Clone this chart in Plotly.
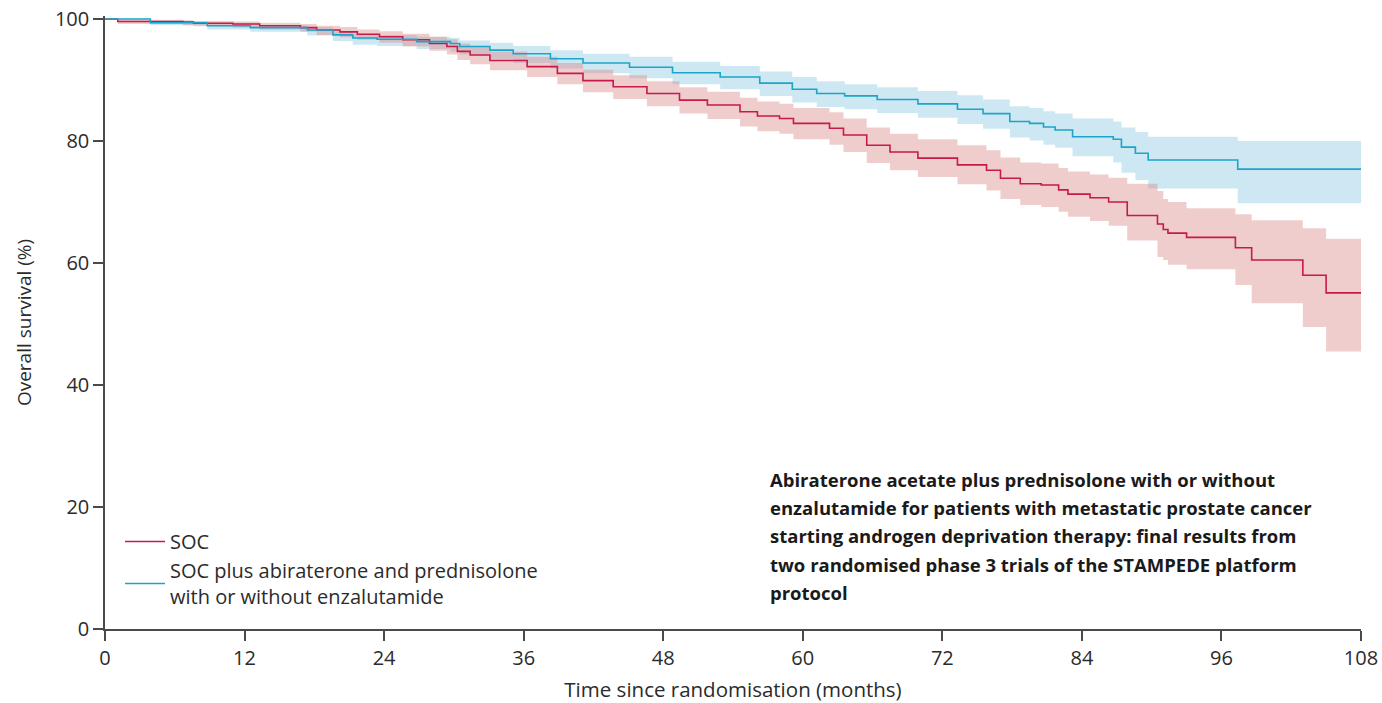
import plotly.graph_objects as go

# ---------------- data ----------------
abi_months = [0, 3.9, 8.8, 12.5, 17.4, 19.6, 21.3, 23.4, 26.8, 29.7, 30.5, 33.1, 35.1,
              38.3, 41.1, 45.1, 48.8, 52.9, 56.3, 59.1, 61.2, 63.6, 66.4, 69.9, 73.3,
              75.5, 77.8, 79.5, 80.7, 81.7, 83.2, 86.7, 87.4, 88.6, 89.7, 97.4, 108]
abi_surv = [100, 99.4, 98.9, 98.6, 98.2, 97.4, 96.9, 96.7, 96.3, 96.0, 95.5, 94.9, 94.3,
            93.5, 92.8, 92.1, 91.2, 90.5, 89.5, 88.5, 87.8, 87.4, 86.8, 86.1, 85.2,
            84.5, 83.2, 82.9, 82.3, 81.8, 80.7, 80.3, 79.0, 78.0, 76.9, 75.4, 75.4]
abi_upper = [100, 99.6, 99.2, 99.0, 98.7, 98.0, 97.6, 97.4, 97.1, 96.9, 96.5, 96.1, 95.6,
             94.9, 94.3, 93.8, 93.0, 92.3, 91.4, 90.5, 89.8, 89.3, 88.8, 88.2, 87.5,
             86.8, 85.7, 85.4, 84.9, 84.5, 83.7, 83.2, 82.2, 81.5, 80.7, 80.0, 80.0]
abi_lower = [100, 99.0, 98.3, 97.9, 97.3, 96.4, 95.8, 95.6, 95.1, 94.7, 94.2, 93.5, 92.8,
             91.9, 91.1, 90.3, 89.3, 88.5, 87.4, 86.3, 85.6, 85.2, 84.6, 83.8, 82.8,
             82.0, 80.6, 80.1, 79.4, 78.9, 77.5, 76.5, 74.8, 73.6, 72.2, 69.8, 69.8]

soc_months = [0, 1.1, 6.7, 7.6, 11.0, 13.3, 16.8, 18.2, 20.2, 21.7, 23.6, 25.6, 27.9,
              29.4, 30.3, 31.4, 33.1, 36.3, 38.9, 41.1, 43.7, 46.6, 49.4, 51.8, 54.6,
              56.1, 58.0, 59.2, 62.3, 63.5, 65.5, 67.5, 69.9, 73.3, 75.8, 77.0, 78.7,
              80.5, 82.0, 82.8, 84.7, 86.3, 87.9, 90.5, 91.0, 91.4, 93.0, 97.2, 98.6,
              103.0, 105.0, 108]
soc_surv = [100, 99.6, 99.5, 99.3, 99.2, 98.9, 98.6, 98.2, 97.9, 97.5, 97.1, 96.6, 96.0,
            95.5, 94.7, 94.1, 93.2, 92.2, 91.1, 89.9, 88.9, 87.8, 86.7, 85.9, 84.8,
            84.1, 83.7, 82.9, 82.1, 81.0, 79.3, 78.2, 77.2, 76.1, 75.2, 73.9, 73.0,
            72.8, 72.0, 71.3, 70.7, 70.0, 67.8, 66.4, 65.5, 64.9, 64.2, 62.5, 60.5,
            58.0, 55.1, 55.1]
soc_upper = [100, 99.9, 99.8, 99.7, 99.6, 99.4, 99.2, 98.9, 98.7, 98.3, 98.0, 97.6, 97.1,
             96.7, 96.0, 95.5, 94.7, 93.8, 92.8, 91.7, 90.8, 89.8, 88.8, 88.1, 87.1,
             86.5, 86.1, 85.4, 84.7, 83.7, 82.2, 81.2, 80.3, 79.3, 78.5, 77.3, 76.5,
             76.3, 75.6, 75.0, 74.5, 74.0, 73.0, 71.8, 70.5, 70.0, 69.0, 68.0, 67.0,
             65.7, 64.0, 64.0]
soc_lower = [100, 99.2, 99.0, 98.8, 98.6, 98.3, 97.9, 97.4, 97.0, 96.6, 96.1, 95.5, 94.8,
             94.2, 93.3, 92.6, 91.6, 90.5, 89.3, 88.0, 86.9, 85.7, 84.5, 83.6, 82.4,
             81.6, 81.2, 80.3, 79.4, 78.2, 76.4, 75.2, 74.1, 72.9, 71.9, 70.5, 69.5,
             69.2, 68.4, 67.6, 66.9, 66.1, 63.7, 61.0, 60.5, 59.7, 59.0, 56.4, 53.4,
             49.5, 45.5, 45.5]

x_ticks = [0, 12, 24, 36, 48, 60, 72, 84, 96, 108]
y_ticks = [0, 20, 40, 60, 80, 100]

name_soc = "SOC"
name_abi = "SOC plus abiraterone and prednisolone<br>with or without enzalutamide"
note_lines = [
    "Abiraterone acetate plus prednisolone with or without",
    "enzalutamide for patients with metastatic prostate cancer",
    "starting androgen deprivation therapy: final results from",
    "two randomised phase 3 trials of the STAMPEDE platform",
    "protocol",
]

# ---------------- styles ----------------
RED = "#c8194b"
BLUE = "#1aa5c9"
RED_FILL = "rgba(217,130,130,0.40)"
BLUE_FILL = "rgba(130,197,222,0.40)"
AXIS = "#4a4a4a"
TXT = "#2b2b2b"
FONT = "Open Sans"

fig = go.Figure()

# confidence bands
for xs, up, lo, fill in [(abi_months, abi_upper, abi_lower, BLUE_FILL),
                         (soc_months, soc_upper, soc_lower, RED_FILL)]:
    fig.add_trace(go.Scatter(x=xs, y=up, mode="lines", line=dict(width=0, shape="hv"),
                             showlegend=False, hoverinfo="skip"))
    fig.add_trace(go.Scatter(x=xs, y=lo, mode="lines", line=dict(width=0, shape="hv"),
                             fill="tonexty", fillcolor=fill, showlegend=False,
                             hoverinfo="skip"))

# survival curves
fig.add_trace(go.Scatter(x=soc_months, y=soc_surv, mode="lines", name=name_soc,
                         line=dict(color=RED, width=1.6, shape="hv")))
fig.add_trace(go.Scatter(x=abi_months, y=abi_surv, mode="lines", name=name_abi,
                         line=dict(color=BLUE, width=1.6, shape="hv")))

W, H = 1382, 703
L, R, T, B = 105, 21, 16, 74
plot_h = H - T - B
plot_w = W - L - R

def px_x(sx):
    """screen x -> paper x"""
    return (sx - L) / plot_w

def px_y(sy):
    """screen y -> paper y"""
    return (H - B - sy) / plot_h

annotations = []
for i, line in enumerate(note_lines):
    annotations.append(dict(
        text=f"<b>{line}</b>", xref="paper", yref="paper",
        x=px_x(768), y=px_y(479 + i * 28.4), xanchor="left", yanchor="middle",
        showarrow=False, align="left",
        font=dict(family=FONT, size=18.5, color="#1a1a1a")))

fig.update_layout(
    width=W, height=H,
    margin=dict(l=L, r=R, t=T, b=B, autoexpand=False),
    paper_bgcolor="white", plot_bgcolor="white",
    font=dict(family=FONT, color=TXT, size=20),
    legend=dict(x=px_x(120), y=px_y(522), xanchor="left", yanchor="top",
                bgcolor="rgba(0,0,0,0)", font=dict(size=20, color=TXT),
                traceorder="normal", tracegroupgap=0, itemwidth=40),
    annotations=annotations,
    xaxis=dict(range=[0, 108], tickvals=x_ticks, ticktext=[str(v) for v in x_ticks],
               showline=True, linecolor=AXIS, linewidth=1.5, ticks="outside",
               ticklen=10, tickwidth=1.5, tickcolor=AXIS, showgrid=False,
               zeroline=False, tickfont=dict(size=20, color=TXT), automargin=False,
               ticklabeloverflow="allow",
               title=dict(text="Time since randomisation (months)",
                          font=dict(size=20.5, color=TXT), standoff=13)),
    yaxis=dict(range=[0, 100.5], tickvals=y_ticks, ticktext=[str(v) for v in y_ticks],
               showline=True, linecolor=AXIS, linewidth=1.5, ticks="outside",
               ticklen=10, tickwidth=1.5, tickcolor=AXIS, showgrid=False,
               zeroline=False, tickfont=dict(size=20, color=TXT), automargin=True,
               ticklabeloverflow="allow",
               title=dict(text="Overall survival (%)", font=dict(size=19, color=TXT),
                          standoff=18)),
)

# remove the default page margin so the figure sits at the window's top-left corner
fig.write_html("out.html", config={"displayModeBar": False},
               post_script="document.body.style.margin='0';")
